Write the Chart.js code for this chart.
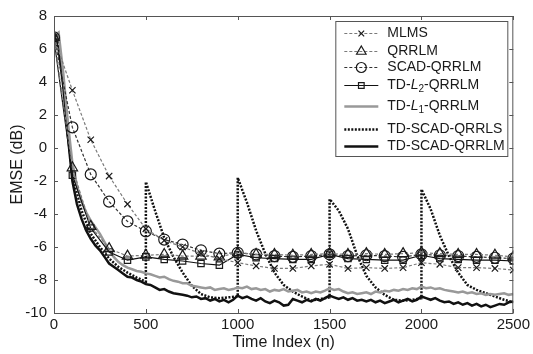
<!DOCTYPE html>
<html>
<head>
<meta charset="utf-8">
<script src="https://cdn.jsdelivr.net/npm/chart.js@4.4.1/dist/chart.umd.min.js"></script>
<style>
  html, body { margin: 0; padding: 0; background: #fff; }
  #wrap { width: 533px; height: 354px; }
</style>
</head>
<body>
<div id="wrap"><canvas id="emseChart" width="533" height="354"></canvas></div>
<script>
// ── Data ──────────────────────────────────────────────────────
const xTicks = [0, 500, 1000, 1500, 2000, 2500];
const yTicks = [-10, -8, -6, -4, -2, 0, 2, 4, 6, 8];

// marker curves, sampled every 100
const markerX = [0, 100, 200, 300, 400, 500, 600, 700, 800, 900, 1000, 1100, 1200,
                 1300, 1400, 1500, 1600, 1700, 1800, 1900, 2000, 2100, 2200, 2300, 2400, 2500];
const mlms      = [6.7, 3.5, 0.5, -1.7, -3.4, -4.9, -5.6, -6.0, -6.4, -6.7, -6.95, -7.15, -7.3,
                   -7.3, -7.15, -7.05, -7.3, -7.25, -7.3, -7.25, -6.95, -7.05, -7.25, -7.25, -7.3, -7.4];
const qrrlm     = [6.7, -1.2, -4.75, -6.1, -6.55, -6.5, -6.45, -6.55, -6.55, -6.6, -6.35, -6.45, -6.45,
                   -6.5, -6.45, -6.4, -6.45, -6.4, -6.45, -6.4, -6.35, -6.4, -6.45, -6.45, -6.5, -6.6];
const scadQrrlm = [6.7, 1.25, -1.6, -3.25, -4.45, -5.05, -5.55, -5.85, -6.2, -6.4, -6.35, -6.45, -6.55,
                   -6.6, -6.55, -6.45, -6.55, -6.5, -6.55, -6.6, -6.45, -6.5, -6.55, -6.6, -6.65, -6.7];
const tdL2      = [6.6, -1.65, -4.85, -6.3, -6.8, -6.6, -6.75, -6.85, -7.0, -7.1, -6.45, -6.65, -6.7,
                   -6.75, -6.75, -6.45, -6.7, -6.75, -6.8, -6.8, -6.5, -6.7, -6.75, -6.8, -6.8, -6.85];

// noisy curves, sampled every 25
const denseX = Array.from({ length: 101 }, (_, i) => i * 25);
const tdL1 = [
  6.8, 7.0, 4.6, 1.6, -0.9, -2.3, -3.2, -3.9, -4.4, -4.8, -5.2, -5.7, -6.2, -6.6, -6.9, -7.1,
  -7.25, -7.35, -7.45, -7.5, -7.6, -7.65, -7.75, -7.85, -7.8, -7.95, -8.05, -8.1, -8.2, -8.2,
  -8.35, -8.4, -8.45, -8.5, -8.45, -8.6, -8.55, -8.5, -8.6, -8.55, -8.45, -8.5, -8.4, -8.55,
  -8.5, -8.6, -8.55, -8.7, -8.6, -8.65, -8.55, -8.7, -8.65, -8.6, -8.75, -8.7, -8.8, -8.7,
  -8.75, -8.65, -8.5, -8.6, -8.55, -8.7, -8.8, -8.75, -8.85, -8.8, -8.75, -8.85, -8.7, -8.75,
  -8.65, -8.7, -8.6, -8.65, -8.55, -8.6, -8.5, -8.55, -8.4, -8.5, -8.45, -8.55, -8.5, -8.6,
  -8.65, -8.7, -8.75, -8.7, -8.8, -8.75, -8.85, -8.8, -8.9, -8.85, -8.9, -8.85, -8.8, -8.9, -8.85
];
const tdScadQrrlm = [
  6.8, 6.0, 3.8, 0.8, -2.0, -3.4, -4.3, -5.0, -5.5, -5.9, -6.2, -6.6, -7.0, -7.2, -7.4, -7.6,
  -7.8, -7.85, -8.0, -8.1, -8.25, -8.3, -8.45, -8.6, -8.55, -8.7, -8.8, -8.85, -8.9, -8.95,
  -9.05, -9.0, -9.15, -9.1, -9.25, -9.15, -9.3, -9.2, -9.35, -9.2, -8.95, -9.1, -9.0, -9.15,
  -9.25, -9.1, -9.3, -9.4, -9.25, -9.35, -9.55, -9.5, -9.15, -9.25, -9.35, -9.2, -9.3, -9.15,
  -9.25, -9.1, -8.95, -9.05, -9.15, -9.05, -9.2, -9.1, -9.25, -9.2, -9.3, -9.2, -9.35, -9.25,
  -9.4, -9.3, -9.2, -9.35, -9.25, -9.15, -9.3, -9.2, -9.0, -9.1, -9.2, -9.1, -9.25, -9.35,
  -9.3, -9.45, -9.35, -9.5, -9.4, -9.55, -9.45, -9.6, -9.5, -9.65, -9.55, -9.45, -9.5, -9.35, -9.3
];

// TD-SCAD-QRRLS with the restarts at 500, 1000, 1500, 2000
const qrrlsX = [0, 25, 50, 75, 100, 150, 200, 250, 300, 350, 400, 450, 500,
                500, 550, 600, 650, 700, 750, 800, 850, 900, 950, 1000,
                1000, 1050, 1100, 1150, 1200, 1250, 1300, 1350, 1400, 1450, 1500,
                1500, 1550, 1600, 1650, 1700, 1750, 1800, 1850, 1900, 1950, 2000,
                2000, 2050, 2100, 2150, 2200, 2250, 2300, 2350, 2400, 2450, 2500];
const qrrlsY = [6.8, 6.3, 4.0, 1.2, -1.6, -3.8, -5.2, -6.0, -6.7, -7.2, -7.55, -7.85, -8.1,
                -2.05, -3.8, -5.45, -6.6, -7.55, -8.35, -8.85, -9.05, -9.1, -9.05, -9.0,
                -1.8, -3.3, -5.0, -6.4, -7.55, -8.3, -8.7, -9.0, -9.25, -9.15, -9.05,
                -3.1, -3.8, -4.9, -6.5, -7.75, -8.45, -8.9, -9.2, -9.25, -9.2, -9.1,
                -2.5, -3.7, -5.3, -6.55, -7.55, -8.3, -8.6, -8.8, -9.0, -9.2, -9.35];

const pairs = (xs, ys) => xs.map((x, i) => ({ x, y: ys[i] }));

// ── Chart Defaults ────────────────────────────────────────────
const FONT = '"Liberation Sans", Arial, sans-serif';
Chart.defaults.font.family = FONT;
Chart.defaults.color       = '#222';

// ── Datasets ──────────────────────────────────────────────────
const markerSet = (label, data, style, radius, lineColor, dash) => ({
  label,
  data:                 pairs(markerX, data),
  borderColor:          lineColor,
  borderWidth:          1.2,
  borderDash:           dash,
  pointStyle:           style,
  pointRadius:          radius,
  pointBorderColor:     '#1a1a1a',
  pointBackgroundColor: 'rgba(0,0,0,0)',
  pointBorderWidth:     1.2,
  tension:              0,
});

const datasets = [
  markerSet('MLMS', mlms, 'crossRot', 4.5, '#7a7a7a', [3, 2]),
  markerSet('QRRLM', qrrlm, 'triangle', 6, '#7a7a7a', [3, 2]),
  markerSet('SCAD-QRRLM', scadQrrlm, 'circle', 5.5, '#333', [3, 2]),
  markerSet('TD-L2-QRRLM', tdL2, 'rect', 4.5, '#111', []),
  {
    label:       'TD-L1-QRRLM',
    data:        pairs(denseX, tdL1),
    borderColor: '#999',
    borderWidth: 2.5,
    pointRadius: 0,
  },
  {
    label:       'TD-SCAD-QRRLS',
    data:        pairs(qrrlsX, qrrlsY),
    borderColor: '#111',
    borderWidth: 2.5,
    borderDash:  [2, 1.5],
    pointRadius: 0,
  },
  {
    label:       'TD-SCAD-QRRLM',
    data:        pairs(denseX, tdScadQrrlm),
    borderColor: '#111',
    borderWidth: 2.5,
    pointRadius: 0,
  },
];

// legend text pieces (italic L with subscripts)
const legendText = [
  [{ t: 'MLMS' }],
  [{ t: 'QRRLM' }],
  [{ t: 'SCAD-QRRLM' }],
  [{ t: 'TD-' }, { t: 'L', it: true }, { t: '2', sub: true }, { t: '-QRRLM' }],
  [{ t: 'TD-' }, { t: 'L', it: true }, { t: '1', sub: true }, { t: '-QRRLM' }],
  [{ t: 'TD-SCAD-QRRLS' }],
  [{ t: 'TD-SCAD-QRRLM' }],
];
const legendRowY = [12, 30, 46, 64, 85, 108, 125];

// ── Frame, inner ticks and legend ─────────────────────────────
const framePlugin = {
  id: 'frame',
  afterDraw(chart) {
    const { ctx, chartArea: a, scales: { x, y } } = chart;
    ctx.save();
    ctx.strokeStyle = '#555';
    ctx.lineWidth   = 1;
    ctx.setLineDash([]);
    ctx.strokeRect(a.left + 0.5, a.top + 0.5, a.right - a.left - 1, a.bottom - a.top);

    ctx.beginPath();
    xTicks.forEach(v => {
      const px = Math.round(x.getPixelForValue(v)) + 0.5;
      ctx.moveTo(px, a.bottom); ctx.lineTo(px, a.bottom - 4);
      ctx.moveTo(px, a.top);    ctx.lineTo(px, a.top + 4);
    });
    yTicks.forEach(v => {
      const py = Math.round(y.getPixelForValue(v)) + 0.5;
      ctx.moveTo(a.left, py);  ctx.lineTo(a.left + 4, py);
      ctx.moveTo(a.right, py); ctx.lineTo(a.right - 4, py);
    });
    ctx.stroke();

    // legend box
    const bx = a.right - 178, by = a.top + 5, bw = 172, bh = 135;
    ctx.fillStyle = '#fff';
    ctx.fillRect(bx, by, bw, bh);
    ctx.strokeStyle = '#555';
    ctx.strokeRect(bx + 0.5, by + 0.5, bw, bh);

    datasets.forEach((ds, i) => {
      const ry = by + legendRowY[i] + 0.5;
      ctx.save();
      ctx.strokeStyle = ds.borderColor;
      ctx.lineWidth   = ds.borderWidth;
      ctx.setLineDash(ds.borderDash || []);
      ctx.beginPath();
      ctx.moveTo(bx + 9, ry);
      ctx.lineTo(bx + 43, ry);
      ctx.stroke();
      ctx.setLineDash([]);
      if (ds.pointRadius > 0) {
        ctx.strokeStyle = ds.pointBorderColor;
        ctx.fillStyle   = 'rgba(0,0,0,0)';
        ctx.lineWidth   = 1.2;
        Chart.helpers.drawPoint(ctx, {
          pointStyle: ds.pointStyle, radius: ds.pointRadius - 0.5, borderWidth: 1.2, rotation: 0,
        }, bx + 26, ry);
      }
      ctx.restore();

      let tx = bx + 52;
      ctx.fillStyle    = '#1a1a1a';
      ctx.textBaseline = 'middle';
      legendText[i].forEach(p => {
        ctx.font = p.sub ? `10px ${FONT}` : (p.it ? `italic 14px ${FONT}` : `14px ${FONT}`);
        ctx.fillText(p.t, tx, ry + (p.sub ? 4 : 0));
        tx += ctx.measureText(p.t).width;
      });
    });
    ctx.restore();
  },
};

// ── Chart ─────────────────────────────────────────────────────
new Chart(document.getElementById('emseChart'), {
  type: 'line',
  data: { datasets },
  options: {
    responsive: false,
    animation:  false,
    layout:     { padding: { top: 12, right: 18, left: 0, bottom: 0 } },
    plugins:    { legend: { display: false }, tooltip: { enabled: false } },
    scales: {
      x: {
        type: 'linear',
        min:  0,
        max:  2500,
        afterBuildTicks: s => { s.ticks = xTicks.map(v => ({ value: v })); },
        afterFit: s => { s.height = 41; },
        ticks:  { color: '#1a1a1a', font: { size: 15 }, padding: 3, maxRotation: 0,
                  callback: v => String(v) },
        grid:   { display: false, drawTicks: false },
        border: { display: false },
        title:  { display: true, text: 'Time Index (n)', color: '#1a1a1a',
                  font: { size: 16 }, padding: { top: 0, bottom: 2 } },
      },
      y: {
        type: 'linear',
        min:  -10,
        max:  8,
        afterBuildTicks: s => { s.ticks = yTicks.map(v => ({ value: v })); },
        afterFit: s => { s.width = 54; },
        ticks:  { color: '#1a1a1a', font: { size: 15 }, padding: 7,
                  callback: v => String(v) },
        grid:   { display: false, drawTicks: false },
        border: { display: false },
        title:  { display: true, text: 'EMSE (dB)', color: '#1a1a1a',
                  font: { size: 16 }, padding: { top: 8, bottom: 0 } },
      },
    },
  },
  plugins: [framePlugin],
});
</script>
</body>
</html>
